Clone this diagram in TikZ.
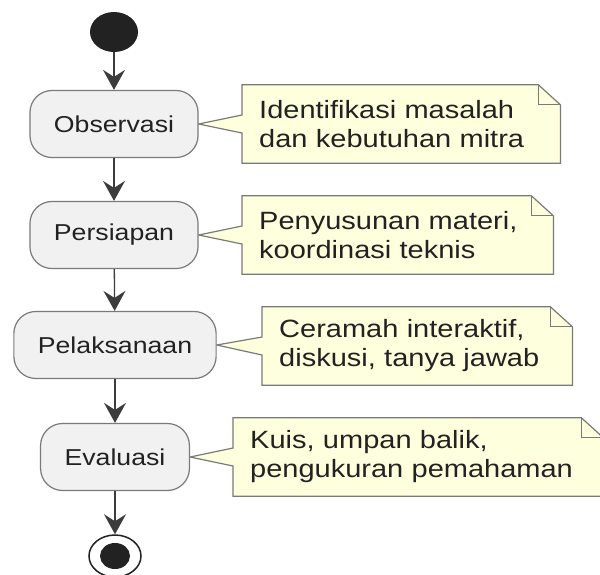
\documentclass[tikz,border=0pt]{standalone}
\usepackage{fontspec}
\setmainfont{Liberation Sans}[FakeStretch=1.16]
\usepackage{tikz}
\usetikzlibrary{arrows.meta,shapes.geometric,backgrounds}
\definecolor{actfill}{HTML}{F1F1F1}
\definecolor{notefill}{HTML}{FEFFDD}
\definecolor{edgegray}{HTML}{7A7A7A}
\definecolor{arrowgray}{HTML}{3C3C3C}
\definecolor{inkgray}{HTML}{222222}

\begin{document}
\begin{tikzpicture}[
    x=1pt, y=-1pt,
    act/.style={draw=edgegray, line width=1.2pt, fill=actfill, rounded corners=22pt, minimum height=67pt, inner xsep=24pt, font=\fontsize{23}{27}\selectfont, text=inkgray},
    notetext/.style={anchor=west, minimum height=78pt, inner xsep=17pt, inner ysep=0pt, align=left, font=\fontsize{25}{29}\selectfont, text=inkgray},
    note/.style={draw=edgegray, line width=1.2pt, fill=notefill, line join=miter},
    fold/.style={draw=edgegray, line width=1.2pt},
    flow/.style={line width=1.3pt, draw=arrowgray, -{Stealth[length=20pt,width=22pt,inset=7pt]}},
    startdot/.style={ellipse, fill=inkgray, minimum width=48pt, minimum height=40pt, inner sep=0pt},
    endring/.style={ellipse, draw=inkgray, line width=1.5pt, fill=white, minimum width=52pt, minimum height=42pt, inner sep=0pt},
    enddot/.style={ellipse, fill=inkgray, minimum width=30pt, minimum height=26pt, inner sep=0pt}
  ]
  \useasboundingbox (0,0) rectangle (600,574);

  % activities
  \node[startdot] (start) at (114,32) {};
  \node[act] (obs)  at (114,124) {Observasi};
  \node[act] (pers) at (114,235) {Persiapan};
  \node[act] (pel)  at (115,345) {Pelaksanaan};
  \node[act] (eva)  at (115,457) {Evaluasi};
  \node[endring] (stop) at (115,556) {};
  \node[enddot] (stopdot) at (115,556) {};

  % flow
  \draw[flow] (start) -- (obs);
  \draw[flow] (obs) -- (pers);
  \draw[flow] (pers) -- (pel);
  \draw[flow] (pel) -- (eva);
  \draw[flow] (eva) -- (stop);

  % note texts
  \node[notetext, text width=284pt] (n1) at (242,124) {Identifikasi masalah\\dan kebutuhan mitra};
  \node[notetext, text width=277pt] (n2) at (242,235) {Penyusunan materi,\\koordinasi teknis};
  \node[notetext, text width=276pt] (n3) at (262,346) {Ceramah interaktif,\\diskusi, tanya jawab};
  \node[notetext, text width=336pt] (n4) at (233,457) {Kuis, umpan balik,\\pengukuran pemahaman};

  % note outlines with wedge, behind the texts
  \begin{scope}[on background layer]
    \draw[note] (n1.north west) -- ([xshift=-22pt]n1.north east) -- ([yshift=-20pt]n1.north east) -- (n1.south east) -- (n1.south west) -- ([yshift=-9pt]n1.west) -- (obs.east) -- ([yshift=9pt]n1.west) -- cycle;
    \draw[fold] ([xshift=-22pt]n1.north east) -- ([xshift=-22pt,yshift=-20pt]n1.north east) -- ([yshift=-20pt]n1.north east);

    \draw[note] (n2.north west) -- ([xshift=-22pt]n2.north east) -- ([yshift=-20pt]n2.north east) -- (n2.south east) -- (n2.south west) -- ([yshift=-9pt]n2.west) -- (pers.east) -- ([yshift=9pt]n2.west) -- cycle;
    \draw[fold] ([xshift=-22pt]n2.north east) -- ([xshift=-22pt,yshift=-20pt]n2.north east) -- ([yshift=-20pt]n2.north east);

    \draw[note] (n3.north west) -- ([xshift=-22pt]n3.north east) -- ([yshift=-20pt]n3.north east) -- (n3.south east) -- (n3.south west) -- ([yshift=-9pt]n3.west) -- (pel.east) -- ([yshift=9pt]n3.west) -- cycle;
    \draw[fold] ([xshift=-22pt]n3.north east) -- ([xshift=-22pt,yshift=-20pt]n3.north east) -- ([yshift=-20pt]n3.north east);

    \draw[note] (n4.north west) -- ([xshift=-22pt]n4.north east) -- ([yshift=-20pt]n4.north east) -- (n4.south east) -- (n4.south west) -- ([yshift=-9pt]n4.west) -- (eva.east) -- ([yshift=9pt]n4.west) -- cycle;
    \draw[fold] ([xshift=-22pt]n4.north east) -- ([xshift=-22pt,yshift=-20pt]n4.north east) -- ([yshift=-20pt]n4.north east);
  \end{scope}
\end{tikzpicture}
\end{document}
